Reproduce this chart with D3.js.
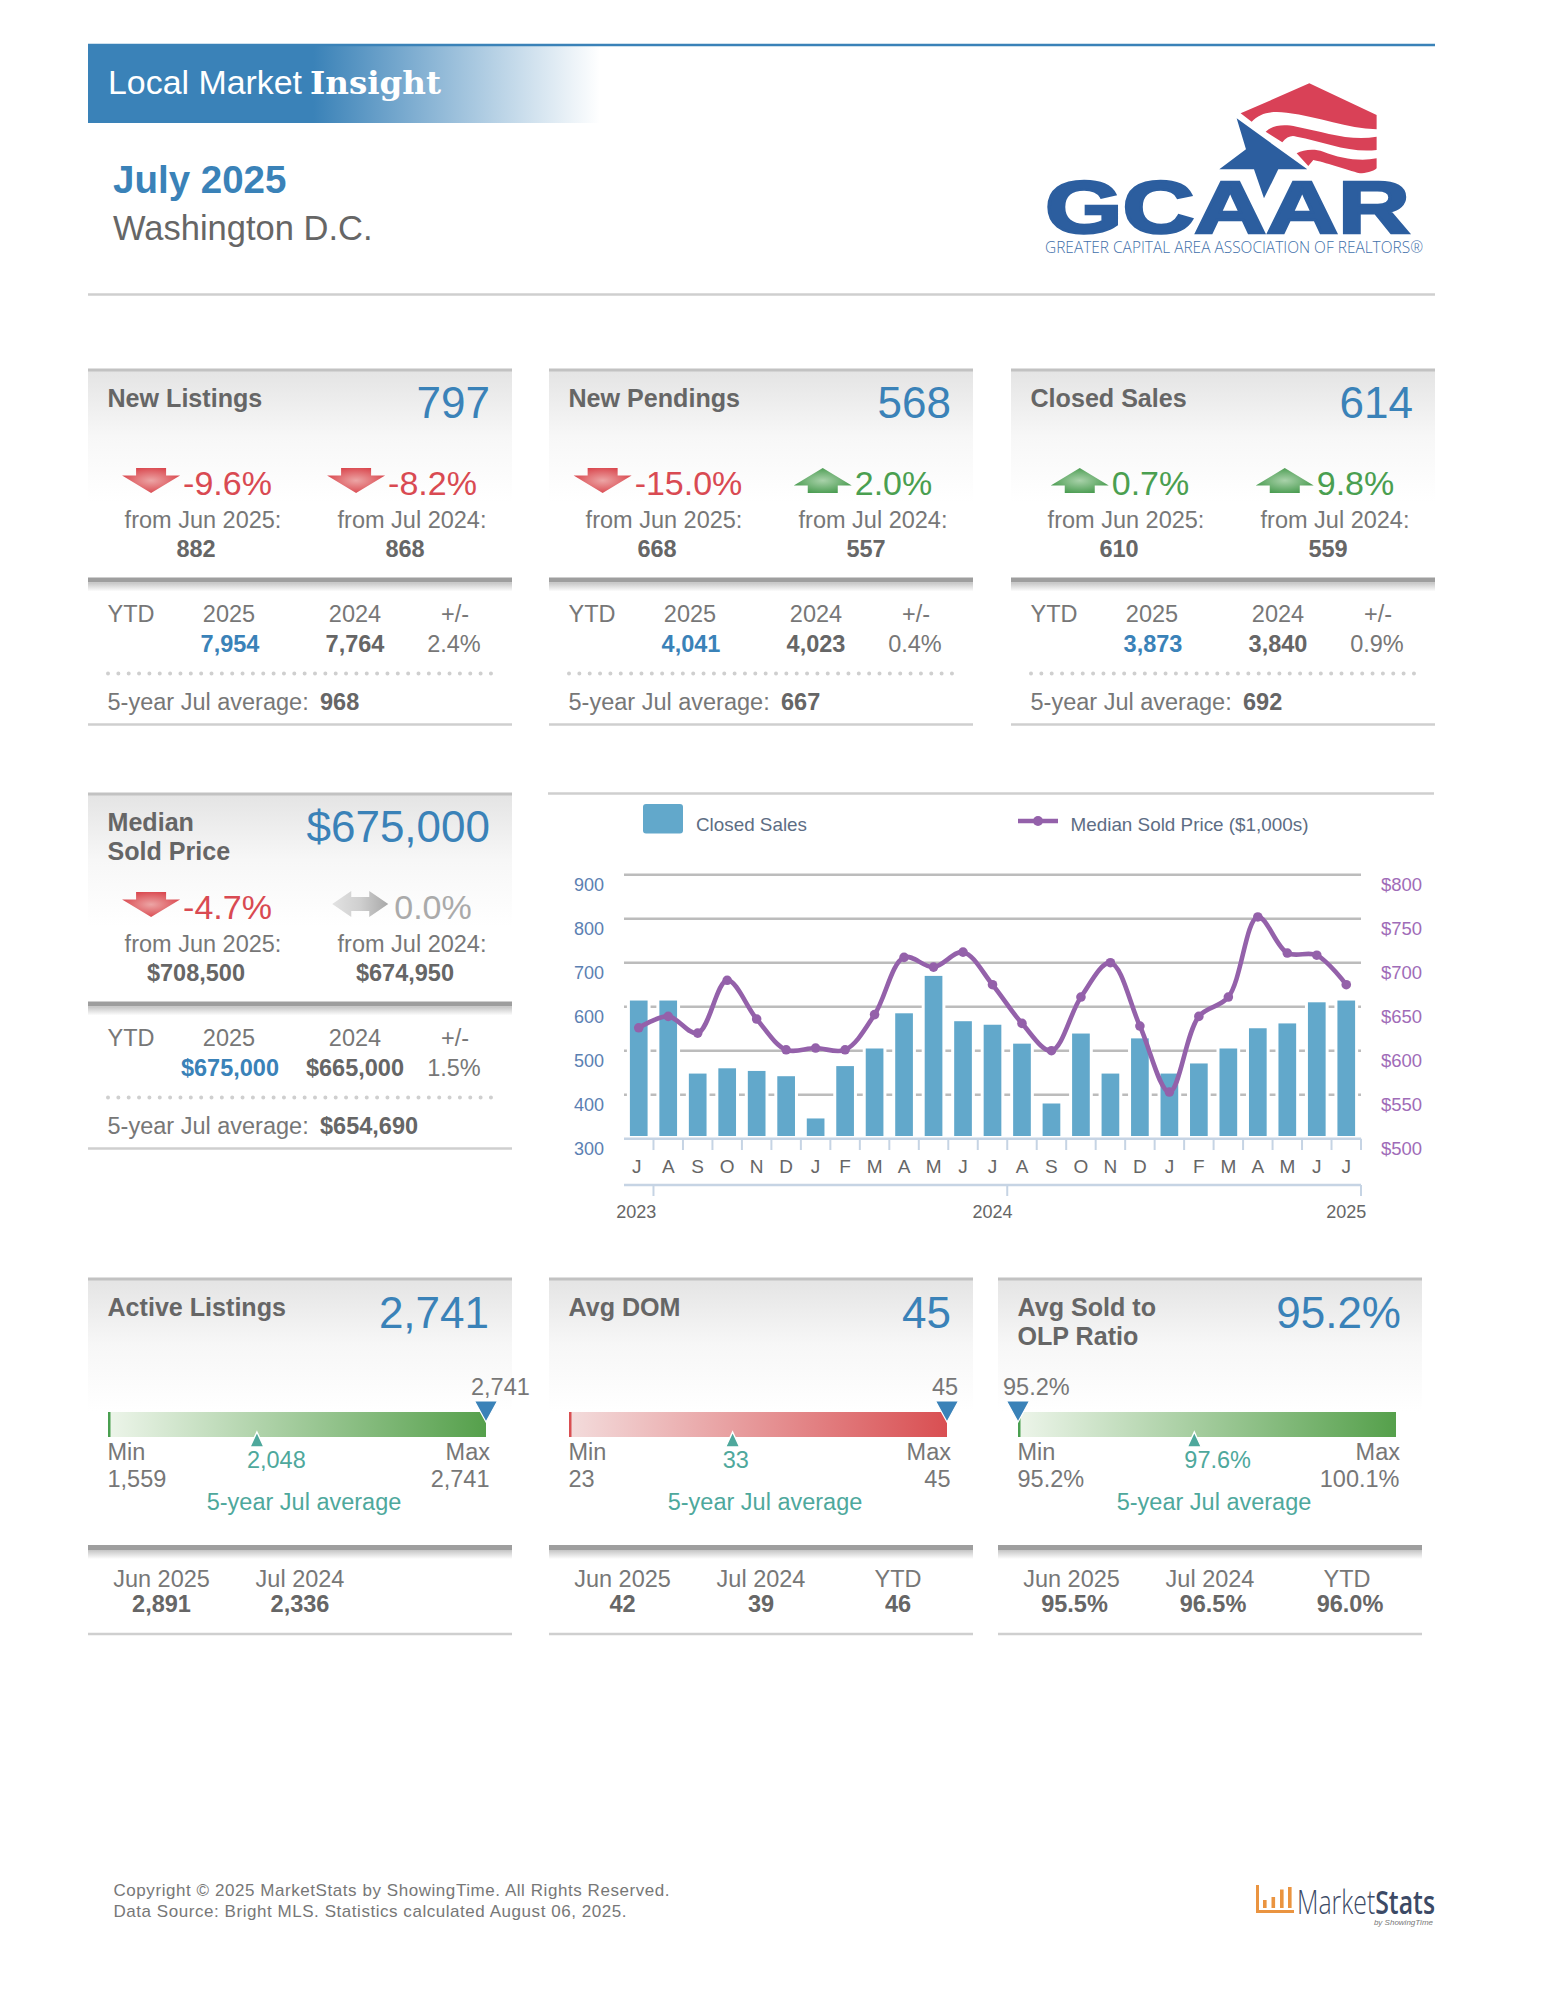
<!DOCTYPE html>
<html><head><meta charset="utf-8">
<script src="https://cdn.jsdelivr.net/npm/d3@7"></script>
<style>html,body{margin:0;padding:0;background:#fff}svg{display:block}text{font-family:"Liberation Sans",Arial,sans-serif}</style>
</head><body><svg id="c" width="1545" height="2000"></svg>
<script>
// ---------- chart data ----------
const months = ["J","A","S","O","N","D","J","F","M","A","M","J","J","A","S","O","N","D","J","F","M","A","M","J","J"];
const closedSales = [614,614,448,460,454,442,346,465,505,585,670,567,559,516,380,539,448,528,448,471,505,551,562,610,614];
const medianPrice = [626,639,620,680,636,601,603,601,641,706,695,712,675,631,600,661,700,628,553,639,661,752,711,708.5,675];
const salesTicks = [300,400,500,600,700,800,900];
const priceTicks = [500,550,600,650,700,750,800];
const yearLabels = ["2023","2024","2025"];
const yearIndex = [0,12,24];
const yearTickAfter = [1,13,25];
// ---------- stat cards ----------
const statTitles = [["New Listings"],["New Pendings"],["Closed Sales"],["Median","Sold Price"]];
const statValues = ["797","568","614","$675,000"];
const pctMonth = ["-9.6%","-15.0%","0.7%","-4.7%"];
const pctYear = ["-8.2%","2.0%","9.8%","0.0%"];
const prevMonth = ["882","668","610","$708,500"];
const prevYear = ["868","557","559","$674,950"];
const ytd2025 = ["7,954","4,041","3,873","$675,000"];
const ytd2024 = ["7,764","4,023","3,840","$665,000"];
const ytdChange = ["2.4%","0.4%","0.9%","1.5%"];
const fiveYear = ["968","667","692","$654,690"];
// ---------- gauge cards ----------
const gaugeTitles = [["Active Listings"],["Avg DOM"],["Avg Sold to","OLP Ratio"]];
const gaugeValues = [2741,45,95.2];
const gaugeMin = [1559,23,95.2];
const gaugeMax = [2741,45,100.1];
const gaugeAvg = [2048,33,97.6];
const gaugeTone = ["good","bad","good"];
const gaugeFmt = [d3.format(","),d3.format("d"),d=>d.toFixed(1)+"%"];
const gaugeJun = ["2,891","42","95.5%"];
const gaugeJul = ["2,336","39","96.5%"];
const gaugeYtd = ["","46","96.0%"];

const blue="#3a82b8",red="#d94a52",green="#4a9f50",teal="#4ea89c",grey="#777",dark="#666",gridC="#bcbcbc";
const svg=d3.select("#c");
const defs=svg.append("defs");
function lin(id,stops,x2=1,y2=0){const g=defs.append("linearGradient").attr("id",id).attr("x1",0).attr("y1",0).attr("x2",x2).attr("y2",y2);
  stops.forEach(s=>g.append("stop").attr("offset",s[0]).attr("stop-color",s[1]).attr("stop-opacity",s[2]==null?1:s[2]));}
lin("band",[[0,blue],[.44,blue],[1,blue,0]]);
lin("card",[[0,"#e4e4e4"],[.5,"#f7f7f7"],[1,"#fff"]],0,1);
lin("shadow",[[0,"#c4c4c4"],[1,"#fff"]],0,1);
lin("gGood",[[0,"#edf5ea"],[1,"#55a04b"]]);
lin("gBad",[[0,"#f3dcdc"],[1,"#d94f52"]]);
lin("flat",[[0,"#e2e2e2"],[.5,"#cfcfcf"],[1,"#a8a8a8"]]);
function rad(id,a,b){const g=defs.append("radialGradient").attr("id",id).attr("cx",.5).attr("cy",.5).attr("r",.55);
  g.append("stop").attr("offset",0).attr("stop-color",a);g.append("stop").attr("offset",1).attr("stop-color",b);}
rad("up","#a9d2aa","#479a4e");rad("down","#eca5a5","#d9454c");

function T(g,x,y,s,o={}){const t=g.append("text").attr("x",x).attr("y",y).text(s)
  .attr("font-size",o.size||23.5).attr("fill",o.fill||grey);
  if(o.bold)t.attr("font-weight","bold");if(o.anchor)t.attr("text-anchor",o.anchor);
  if(o.ls)t.attr("letter-spacing",o.ls);if(o.family)t.style("font-family",o.family);return t;}
function hline(g,x1,x2,y,c,w){g.append("line").attr("x1",x1).attr("x2",x2).attr("y1",y).attr("y2",y).attr("stroke",c).attr("stroke-width",w);}

// ---------- header ----------
hline(svg,88,1435,45,blue,2.5);
svg.append("rect").attr("x",88).attr("y",45).attr("width",512).attr("height",78).attr("fill","url(#band)");
T(svg,108,94,"Local Market",{size:33,fill:"#fff"}).attr("textLength",194).attr("lengthAdjust","spacingAndGlyphs");
T(svg,310,94,"Insight",{size:32,fill:"#fff",bold:true,family:"'DejaVu Serif',serif"}).attr("textLength",131).attr("lengthAdjust","spacingAndGlyphs");
T(svg,113,193,"July 2025",{size:38.5,fill:blue,bold:true});
T(svg,113,240,"Washington D.C.",{size:34.5,fill:dark});
hline(svg,88,1435,294.5,"#cfcfcf",2.5);

// ---------- GCAAR logo ----------
const logo=svg.append("g").attr("transform","translate(1030,70) scale(0.3333)");
const logoRed="#d94157",logoBlue="#2c5e9f";
["M632,130 L838,40 L1040,135 V178 C950,175 870,140 770,128 C720,122 690,130 665,155 Z",
 "M707,185 C730,165 760,162 800,170 C880,185 960,215 1040,200 V240 C960,250 880,215 800,200 C785,195 770,200 757,217 Z",
 "M800,250 C820,240 850,235 880,245 C930,265 990,275 1040,265 V295 C1030,305 1005,310 990,310 C950,300 880,275 850,270 L835,288 Z"]
 .forEach(d=>logo.append("path").attr("d",d).attr("fill",logoRed));
T(svg,1045,232.5,"GCAAR",{size:74,bold:true,fill:logoBlue}).attr("textLength",365).attr("lengthAdjust","spacingAndGlyphs").attr("stroke",logoBlue).attr("stroke-width",2.6);
logo.append("path").attr("d","M620,145 L832,298 L745,298 L702,385 L672,298 L568,298 L648,238 Z").attr("fill",logoBlue);
T(svg,1045,253,"GREATER CAPITAL AREA ASSOCIATION OF REALTORS®",{size:15.5,fill:"#3f70aa",family:"'Open Sans',sans-serif"}).attr("font-weight",300).attr("textLength",378).attr("lengthAdjust","spacingAndGlyphs");

// ---------- arrows ----------
const upD="M29,0 L58,17.5 H44 V25 H14 V17.5 H0 Z";
const downD="M14,0 H44 V7.5 H58 L29,25 L0,7.5 H14 Z";
const flatD="M0,13 L19,0 V6 H37 V0 L56,13 L37,26 V20 H19 V26 Z";
function trend(g,cx,base,s){
  const kind=s==="0.0%"?"flat":s[0]==="-"?"down":"up";
  const col=kind==="flat"?"#aaaaaa":kind==="down"?red:green;
  const t=T(g,0,base,s,{size:34,fill:col});
  const tw=t.node().getComputedTextLength(), aw=kind==="flat"?56:58, gap=kind==="flat"?6:3;
  const left=cx-(aw+gap+tw)/2;
  t.attr("x",left+aw+gap);
  g.append("path").attr("transform",`translate(${left},${base-(kind==="flat"?28:27)})`).attr("d",kind==="up"?upD:kind==="down"?downD:flatD)
   .attr("fill",kind==="up"?"url(#up)":kind==="down"?"url(#down)":"url(#flat)");
}
function cardFrame(g,w,thick,bottom){
  g.append("rect").attr("width",w).attr("height",132).attr("fill","url(#card)");
  hline(g,0,w,0,"#c2c2c2",3);
  g.append("rect").attr("y",thick).attr("width",w).attr("height",5).attr("fill","#9e9e9e");
  g.append("rect").attr("y",thick+5).attr("width",w).attr("height",9).attr("fill","url(#shadow)");
  hline(g,0,w,bottom,"#cfcfcf",2.5);
}

// ---------- stat cards ----------
const statX=[88,549,1011,88], statY=[370,370,370,794];
statTitles.forEach((title,i)=>{
  const g=svg.append("g").attr("transform",`translate(${statX[i]},${statY[i]})`);
  cardFrame(g,424,207.5,354.5);
  title.forEach((l,k)=>T(g,19.5,36.5+k*29,l,{size:25.1,bold:true,fill:dark}));
  T(g,402,48,statValues[i],{size:44,fill:blue,anchor:"end"});
  trend(g,109,125,pctMonth[i]);trend(g,314,125,pctYear[i]);
  T(g,115,157.5,"from Jun 2025:",{anchor:"middle"});
  T(g,324,157.5,"from Jul 2024:",{anchor:"middle"});
  T(g,108,186.5,prevMonth[i],{anchor:"middle",bold:true,fill:dark});
  T(g,317,186.5,prevYear[i],{anchor:"middle",bold:true,fill:dark});
  T(g,19.5,251.5,"YTD");
  T(g,141,251.5,"2025",{anchor:"middle"});
  T(g,267,251.5,"2024",{anchor:"middle"});
  T(g,367,251.5,"+/-",{anchor:"middle"});
  T(g,142,282,ytd2025[i],{anchor:"middle",bold:true,fill:blue});
  T(g,267,282,ytd2024[i],{anchor:"middle",bold:true,fill:dark});
  T(g,366,282,ytdChange[i],{anchor:"middle"});
  g.append("line").attr("x1",20).attr("x2",404).attr("y1",303.5).attr("y2",303.5).attr("stroke","#cfcfcf").attr("stroke-width",4).attr("stroke-linecap","round").attr("stroke-dasharray","0 10.35");
  T(g,19.5,340,"5-year Jul average:");
  T(g,232,340,fiveYear[i],{bold:true,fill:dark});
});

// ---------- main chart ----------
const x=d3.scaleBand().domain(d3.range(months.length)).range([624,1361]);
const xBar=d3.scaleBand().domain(d3.range(months.length)).range([624,1361]).paddingInner(.4).paddingOuter(.2);
const yS=d3.scaleLinear().domain([300,900]).range([1138.7,874.7]);
const yP=d3.scaleLinear().domain([500,800]).range([1138.7,874.7]);
const ch=svg.append("g");
hline(ch,548,1434,793.5,"#cfcfcf",2.5);
ch.append("rect").attr("x",643).attr("y",804).attr("width",40).attr("height",29.5).attr("rx",3).attr("fill","#62a8cb");
T(ch,696,831,"Closed Sales",{size:19,fill:"#5d6d84"}).attr("textLength",111).attr("lengthAdjust","spacingAndGlyphs");
hline(ch,1018,1058,821,"#9461aa",4.5);
ch.append("circle").attr("cx",1038).attr("cy",821).attr("r",5).attr("fill","#9461aa");
T(ch,1070.5,831,"Median Sold Price ($1,000s)",{size:19,fill:"#5d6d84"}).attr("textLength",238).attr("lengthAdjust","spacingAndGlyphs");

ch.selectAll(".grid").data(salesTicks.slice(1)).join("line").attr("x1",624).attr("x2",1361)
  .attr("y1",d=>yS(d)).attr("y2",d=>yS(d)).attr("stroke",gridC).attr("stroke-width",2.5);
ch.selectAll(".halo").data(closedSales).join("rect").attr("x",(d,i)=>xBar(i)-3).attr("width",xBar.bandwidth()+6)
  .attr("y",d=>yS(d)-3).attr("height",d=>yS(300)-yS(d)+3).attr("fill","#fff");
ch.selectAll(".bar").data(closedSales).join("rect").attr("x",(d,i)=>xBar(i)).attr("width",xBar.bandwidth())
  .attr("y",d=>yS(d)).attr("height",d=>yS(300)-yS(d)-2.7).attr("fill","#62a8cb");
const axisC="#c6d4e4";
hline(ch,624,1361,yS(300),axisC,2.5);
d3.range(1,months.length+1).forEach(i=>{const tx=i===months.length?1361:x(i);
  ch.append("line").attr("x1",tx).attr("x2",tx).attr("y1",yS(300)).attr("y2",1150).attr("stroke",axisC).attr("stroke-width",2);});
months.forEach((m,i)=>T(ch,x(i)+x.bandwidth()/2-(i===0?2:0),1172.5,m,{size:19,fill:dark,anchor:"middle"}));
hline(ch,624,1361,1185,axisC,2.5);
yearTickAfter.forEach(i=>{const tx=i===months.length?1361:x(i);
  ch.append("line").attr("x1",tx).attr("x2",tx).attr("y1",1185).attr("y2",1196).attr("stroke",axisC).attr("stroke-width",2);});
yearLabels.forEach((l,i)=>T(ch,x(yearIndex[i])+x.bandwidth()/2-(i===0?2.5:0),1217.5,l,{size:18,fill:dark,anchor:"middle"}));
salesTicks.forEach(t=>T(ch,604,yS(t)+16.5,String(t),{size:18,fill:"#5b80b2",anchor:"end"}));
priceTicks.forEach(t=>T(ch,1381,yP(t)+16.5,"$"+t,{size:18.5,fill:"#a06cb8"}));
const line=d3.line().x((d,i)=>x(i)+x.bandwidth()/2).y(d=>yP(d)).curve(d3.curveCatmullRom.alpha(.5));
ch.append("path").attr("d",line(medianPrice)).attr("fill","none").attr("stroke","#9461aa").attr("stroke-width",4.6);
ch.selectAll(".pt").data(medianPrice).join("circle").attr("cx",(d,i)=>x(i)+x.bandwidth()/2).attr("cy",d=>yP(d)).attr("r",4.8).attr("fill","#9461aa");

// ---------- gauge cards ----------
const gaugeX=[88,549,998];
const gaugeRight=[401,402,403];
gaugeTitles.forEach((title,i)=>{
  const g=svg.append("g").attr("transform",`translate(${gaugeX[i]},1279)`);
  cardFrame(g,424,266,355);
  title.forEach((l,k)=>T(g,19.5,36.7+k*29,l,{size:25.1,bold:true,fill:dark}));
  const fmt=gaugeFmt[i];
  T(g,gaugeRight[i],49,fmt(gaugeValues[i]),{size:44,fill:blue,anchor:"end"});
  const bx=20,bw=378,by=133,bh=25;
  const sc=d3.scaleLinear().domain([gaugeMin[i],gaugeMax[i]]).range([bx,bx+bw]);
  const scAvg=d3.scaleLinear().domain([gaugeMin[i],gaugeMax[i]]).range([bx,bx+bw-18]);
  const tone=gaugeTone[i]==="good";
  g.append("rect").attr("x",bx).attr("y",by).attr("width",bw).attr("height",bh).attr("fill",tone?"url(#gGood)":"url(#gBad)");
  g.append("rect").attr("x",bx).attr("y",by).attr("width",2.5).attr("height",bh).attr("fill",tone?green:"#d94f52");
  const cx=sc(gaugeValues[i]);
  g.append("path").attr("transform",`translate(${cx},0)`).attr("d","M-11.5,122 H11.5 L0,143 Z").attr("fill",blue).attr("stroke","#fff").attr("stroke-width",1.2);
  T(g,cx-15,116,fmt(gaugeValues[i]));
  const ax=scAvg(gaugeAvg[i]);
  g.append("path").attr("transform",`translate(${ax},0)`).attr("d","M0,153 L7,168 H-7 Z").attr("fill",teal).attr("stroke","#fff").attr("stroke-width",1.4);
  T(g,ax-10,189,fmt(gaugeAvg[i]),{fill:teal});
  T(g,19.5,181,"Min");T(g,402,181,"Max",{anchor:"end"});
  T(g,19.5,207.7,fmt(gaugeMin[i]));T(g,401.5,207.7,fmt(gaugeMax[i]),{anchor:"end"});
  T(g,216,231,"5-year Jul average",{fill:teal,anchor:"middle"});
  const lc=[73.5,212,349];
  ["Jun 2025","Jul 2024","YTD"].forEach((l,k)=>{const val=[gaugeJun,gaugeJul,gaugeYtd][k][i];
    if(!val)return;
    T(g,lc[k],307.7,l,{anchor:"middle"});
    T(g,lc[k]+(i===2?3:0),332.7,val,{anchor:"middle",bold:true,fill:dark});});
});

// ---------- footer ----------
T(svg,113.5,1895.5,"Copyright © 2025 MarketStats by ShowingTime. All Rights Reserved.",{size:17,fill:"#777"}).attr("textLength",556);
T(svg,113.5,1916.5,"Data Source: Bright MLS. Statistics calculated August 06, 2025.",{size:17,fill:"#777"}).attr("textLength",513);
const orange="#ea9440";
svg.append("path").attr("d","M1256,1885 H1259 V1910 H1294 V1913 H1256 Z").attr("fill",orange);
[[1263,1900],[1271.5,1897],[1280,1889.5],[1288,1887]].forEach(b=>svg.append("rect").attr("x",b[0]).attr("y",b[1]).attr("width",3.6).attr("height",1908-b[1]).attr("fill",orange));
const ms=T(svg,1297,1914,"",{size:33,fill:"#3c4a66",family:"'Open Sans',sans-serif"}).attr("textLength",138).attr("lengthAdjust","spacingAndGlyphs");
ms.append("tspan").attr("font-weight",300).text("Market");ms.append("tspan").attr("font-weight",600).text("Stats");
T(svg,1433,1925,"by ShowingTime",{size:8,fill:"#777",anchor:"end"}).attr("font-style","italic");
</script></body></html>
